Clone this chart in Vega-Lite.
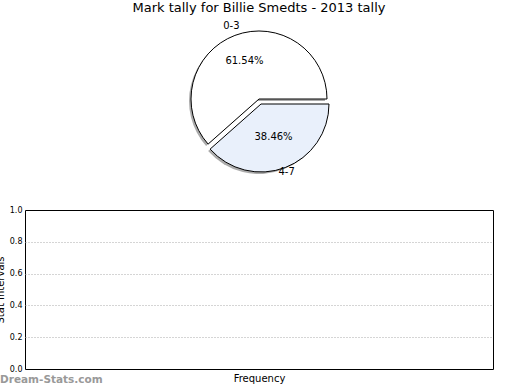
{
  "$schema": "https://vega.github.io/schema/vega-lite/v6.json",
  "padding": {"left": -6, "top": 2, "right": 0, "bottom": 0},
  "spacing": 28,
  "config": {
    "font": "DejaVu Sans",
    "title": {"font": "DejaVu Sans", "fontWeight": "normal"},
    "axis": {"labelFont": "DejaVu Sans", "titleFont": "DejaVu Sans", "titleFontWeight": "normal"}
  },
  "datasets": {
    "tally": [
      {"label": "0-3", "pct": 61.54, "text": "61.54%"},
      {"label": "4-7", "pct": 38.46, "text": "38.46%"}
    ],
    "empty": []
  },
  "vconcat": [
    {
      "width": 468,
      "height": 156,
      "view": {"stroke": null},
      "title": {"text": "Mark tally for Billie Smedts - 2013 tally", "fontSize": 13, "color": "black", "offset": 6},
      "data": {"name": "tally"},
      "encoding": {
        "theta": {"field": "pct", "type": "quantitative", "stack": true, "scale": {"range": [1.5707963, 7.8539816]}},
        "order": {"field": "label", "type": "nominal", "sort": "descending"},
        "detail": {"field": "label", "type": "nominal"}
      },
      "layer": [
        {
          "mark": {"type": "arc", "radius": 68, "fill": "#666", "xOffset": -2, "yOffset": 2},
          "encoding": {"opacity": {"condition": {"test": "datum.label === '0-3'", "value": 0.55}, "value": 0}}
        },
        {
          "mark": {"type": "arc", "radius": 68, "fill": "#666", "xOffset": 0, "yOffset": 7},
          "encoding": {"opacity": {"condition": {"test": "datum.label === '4-7'", "value": 0.55}, "value": 0}}
        },
        {
          "mark": {"type": "arc", "radius": 68, "stroke": "black", "strokeWidth": 1},
          "encoding": {
            "color": {"field": "label", "type": "nominal", "scale": {"domain": ["0-3", "4-7"], "range": ["#ffffff", "#e9f0fb"]}, "legend": null},
            "opacity": {"condition": {"test": "datum.label === '0-3'", "value": 1}, "value": 0}
          }
        },
        {
          "mark": {"type": "arc", "radius": 68, "stroke": "black", "strokeWidth": 1, "xOffset": 2, "yOffset": 5},
          "encoding": {
            "color": {"field": "label", "type": "nominal", "legend": null},
            "opacity": {"condition": {"test": "datum.label === '4-7'", "value": 1}, "value": 0}
          }
        },
        {
          "mark": {"type": "text", "radius": 41, "fontSize": 10, "color": "black"},
          "encoding": {"text": {"field": "text"}}
        },
        {
          "mark": {"type": "text", "radius": 78, "fontSize": 10, "color": "black"},
          "encoding": {"text": {"field": "label"}}
        }
      ]
    },
    {
      "width": 468,
      "height": 159,
      "view": {"stroke": "black", "strokeWidth": 1},
      "title": {"text": "Dream-Stats.com", "orient": "bottom", "anchor": "start", "frame": "group", "fontSize": 10.5, "fontWeight": "bold", "color": "#999999", "dx": -25, "dy": -12},
      "data": {"name": "empty"},
      "mark": "point",
      "encoding": {
        "x": {"field": "freq", "type": "quantitative", "scale": {"domain": [0, 1]},
          "axis": {"labels": false, "ticks": false, "domain": false, "grid": false, "title": "Frequency", "titleFontSize": 10, "titleColor": "black", "titlePadding": 4}},
        "y": {"field": "interval", "type": "quantitative", "scale": {"domain": [0, 1]},
          "axis": {"values": [0, 0.2, 0.4, 0.6, 0.8, 1], "format": ".1f", "labelFontSize": 8, "labelColor": "black", "ticks": false, "labelPadding": 3, "domain": false,
            "grid": true, "gridDash": [1, 2], "gridColor": "#aaaaaa",
            "gridOpacity": {"condition": {"test": "datum.value === 0 || datum.value === 1", "value": 0}, "value": 1},
            "title": "Stat Intervals", "titleFontSize": 10, "titleColor": "black", "titlePadding": 4}}
      }
    }
  ]
}
